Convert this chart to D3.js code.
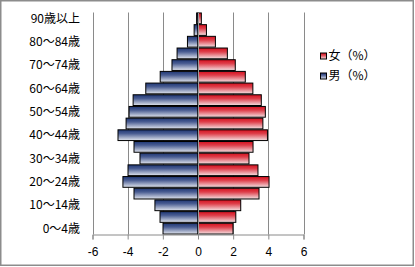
<!DOCTYPE html>
<html>
<head>
<meta charset="utf-8">
<script src="https://cdn.jsdelivr.net/npm/d3@7"></script>
<style>
  body { margin: 0; background: #fff; }
  svg { display: block; font-family: "Noto Sans CJK JP", sans-serif; }
</style>
</head>
<body>
<div class="container"></div>
<script>
// age groups, bottom to top
const ages = ["0～4歳", "5～9歳", "10～14歳", "15～19歳", "20～24歳", "25～29歳",
  "30～34歳", "35～39歳", "40～44歳", "45～49歳", "50～54歳", "55～59歳",
  "60～64歳", "65～69歳", "70～74歳", "75～79歳", "80～84歳", "85～89歳", "90歳以上"];
// 男 is plotted as negative values
const male = [-1.99, -2.16, -2.45, -3.64, -4.27, -3.98, -3.3, -3.64, -4.55, -4.09,
  -3.92, -3.69, -2.97, -2.15, -1.48, -1.19, -0.6, -0.22, -0.08];
const female = [1.99, 2.15, 2.43, 3.47, 4.04, 3.41, 2.9, 3.13, 3.95, 3.69,
  3.83, 3.6, 3.12, 2.69, 2.12, 1.67, 0.99, 0.48, 0.19];
const xTicks = [-6, -4, -2, 0, 2, 4, 6];
const shownAges = ages.filter((d, i) => i % 2 === 0);
const seriesNames = ["女（%）", "男（%）"];

const width = 415, height = 267;
const x = d3.scaleLinear().domain([-6, 6]).range([92.5, 303.5]);
const y = d3.scaleBand().domain(ages).range([234.5, 12.5]).paddingInner(0.08).paddingOuter(0.04);

const svg = d3.select(".container").append("svg")
  .attr("width", width).attr("height", height);

// gradients
const defs = svg.append("defs");
const grad = (id, stops) => {
  let g = defs.append("linearGradient").attr("id", id)
    .attr("x1", 0).attr("y1", 0).attr("x2", 0).attr("y2", 1);
  stops.forEach(s => g.append("stop").attr("offset", s[0]).attr("stop-color", s[1]));
};
grad("gMale", [[0, "#1e3674"], [0.35, "#4a5d92"], [1, "#e1e5ee"]]);
grad("gFemale", [[0, "#d4101e"], [0.35, "#de3e4a"], [1, "#f4e1e3"]]);

// chart border
svg.append("rect")
  .attr("x", 0.75).attr("y", 0.75)
  .attr("width", width - 2.5).attr("height", height - 2.5)
  .attr("fill", "#fff").attr("stroke", "#8c8c8c").attr("stroke-width", 1.5);

// grid lines
svg.append("g").selectAll("line")
  .data(xTicks)
  .join("line")
  .attr("x1", d => Math.round(x(d)) + 0.5).attr("x2", d => Math.round(x(d)) + 0.5)
  .attr("y1", 12.5).attr("y2", 234.5)
  .attr("stroke", "#8a8a8a");

// bars
const bars = svg.append("g").attr("stroke", "#000").attr("stroke-width", 1);
bars.selectAll("rect.male")
  .data(male)
  .join("rect")
  .attr("class", "male")
  .attr("x", d => x(d))
  .attr("y", (d, i) => y(ages[i]))
  .attr("width", d => x(0) - x(d))
  .attr("height", y.bandwidth())
  .attr("fill", "url(#gMale)");
bars.selectAll("rect.female")
  .data(female)
  .join("rect")
  .attr("class", "female")
  .attr("x", x(0))
  .attr("y", (d, i) => y(ages[i]))
  .attr("width", d => x(d) - x(0))
  .attr("height", y.bandwidth())
  .attr("fill", "url(#gFemale)");

// category axis line at zero
svg.append("line")
  .attr("x1", Math.round(x(0)) + 0.5).attr("x2", Math.round(x(0)) + 0.5)
  .attr("y1", 12.5).attr("y2", 234.5)
  .attr("stroke", "#9a9a9a");

// value axis
const xAxis = svg.append("g")
  .attr("transform", "translate(0,234.5)")
  .call(d3.axisBottom(x).tickValues(xTicks).tickSize(5).tickPadding(8).tickFormat(d3.format("d")));
xAxis.select(".domain").attr("stroke", "#8a8a8a");
xAxis.selectAll(".tick line").attr("stroke", "#8a8a8a");
xAxis.selectAll("text").attr("font-size", 12).attr("fill", "#000")
  .text(d => d < 0 ? "-" + Math.abs(d) : d);

// category labels
svg.append("g").selectAll("text")
  .data(shownAges)
  .join("text")
  .attr("x", 80)
  .attr("y", d => y(d) + y.bandwidth() / 2)
  .attr("dy", "0.35em")
  .attr("text-anchor", "end")
  .attr("font-size", 12)
  .text(d => d);

// legend
const legend = svg.append("g").selectAll("g")
  .data([[seriesNames[0], "url(#gFemale)"], [seriesNames[1], "url(#gMale)"]])
  .join("g")
  .attr("transform", (d, i) => `translate(320.5,${53 + i * 20})`);
legend.append("rect")
  .attr("width", 6).attr("height", 6)
  .attr("fill", d => d[1]).attr("stroke", "#000");
legend.append("text")
  .attr("x", 8).attr("y", 3).attr("dy", "0.35em")
  .attr("font-size", 12)
  .text(d => d[0]);
</script>
</body>
</html>
